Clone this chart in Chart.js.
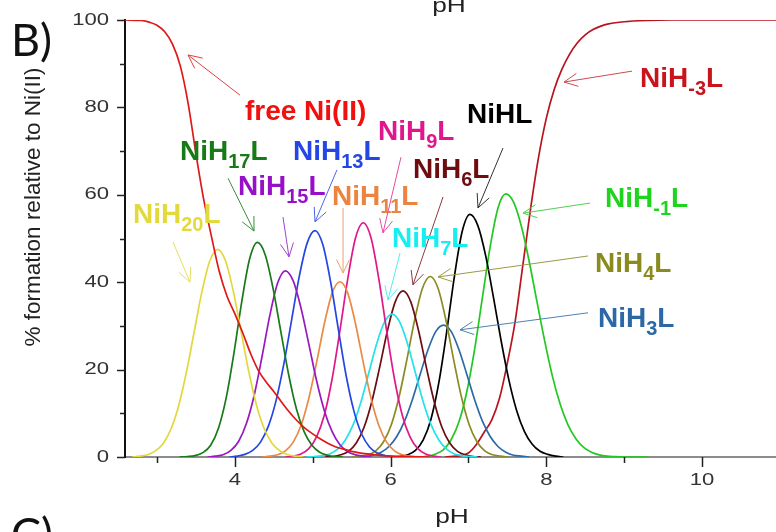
<!DOCTYPE html>
<html>
<head>
<meta charset="utf-8">
<script src="https://cdn.jsdelivr.net/npm/chart.js@4"></script>
<style>
  body { margin: 0; background: #fff; }
  canvas { display: block; }
</style>
</head>
<body>
<canvas id="grafico" width="776" height="532"></canvas>
<script>
// valores: [pH, % formacion]
const freeNi = [[2.59,100],[2.8,99.9],[2.9,99.5],[3.0,98.8],[3.1,97.3],[3.2,94.5],[3.3,89.5],[3.4,81],[3.5,69.5],[3.6,59],[3.7,50.5],[3.8,42.5],[3.9,36.8],[4.0,32.8],[4.1,28.5],[4.2,23.8],[4.3,19.9],[4.4,17.2],[4.5,15],[4.6,12.6],[4.7,10.3],[4.8,8.3],[4.9,6.6],[5.0,5.3],[5.1,4.1],[5.2,3.1],[5.3,2.3],[5.4,1.8],[5.5,1.3],[5.7,0.7],[5.9,0.3],[6.2,0.1],[6.5,0]];
const NiH20L = [[2.68,0],[2.78,0.2],[2.88,0.5],[2.98,1.4],[3.08,3.1],[3.18,6.4],[3.28,11.8],[3.38,19.5],[3.48,28.8],[3.58,38.0],[3.68,44.9],[3.78,47.5],[3.88,44.9],[3.98,38.0],[4.08,28.8],[4.18,19.5],[4.28,11.8],[4.38,6.4],[4.48,3.1],[4.58,1.4],[4.68,0.5],[4.78,0.2],[4.88,0]];
const NiH17L = [[3.29,0],[3.39,0.1],[3.49,0.3],[3.59,1.0],[3.69,2.7],[3.79,6.6],[3.89,13.6],[3.99,23.9],[4.09,35.6],[4.19,45.3],[4.29,49.1],[4.39,46.3],[4.49,38.7],[4.59,28.8],[4.69,19.0],[4.79,11.1],[4.89,5.8],[4.99,2.7],[5.09,1.1],[5.19,0.4],[5.29,0.1],[5.39,0]];
const NiH15L = [[3.65,0],[3.75,0.2],[3.85,0.5],[3.95,1.5],[4.05,3.6],[4.15,7.7],[4.25,14.2],[4.35,23.0],[4.45,32.4],[4.55,39.8],[4.65,42.6],[4.75,40.3],[4.85,34.1],[4.95,25.9],[5.05,17.5],[5.15,10.6],[5.25,5.8],[5.35,2.8],[5.45,1.2],[5.55,0.5],[5.65,0.2],[5.75,0]];
const NiH13L = [[3.93,0],[4.03,0.2],[4.13,0.6],[4.23,1.5],[4.33,3.4],[4.43,7.0],[4.53,12.9],[4.63,21.3],[4.73,31.4],[4.83,41.5],[4.93,49.0],[5.03,51.8],[5.13,48.6],[5.23,40.1],[5.33,29.2],[5.43,18.6],[5.53,10.5],[5.63,5.2],[5.73,2.3],[5.83,0.9],[5.93,0.3],[6.03,0.1],[6.13,0]];
const NiH11L = [[4.35,0],[4.45,0.2],[4.55,0.5],[4.65,1.4],[4.75,3.4],[4.85,7.2],[4.95,13.4],[5.05,21.6],[5.15,30.5],[5.25,37.5],[5.35,40.1],[5.45,37.5],[5.55,30.5],[5.65,21.6],[5.75,13.4],[5.85,7.2],[5.95,3.4],[6.05,1.4],[6.15,0.5],[6.25,0.2],[6.35,0]];
const NiH9L = [[4.65,0],[4.75,0.2],[4.85,0.7],[4.95,1.9],[5.05,4.6],[5.15,9.6],[5.25,17.9],[5.35,28.9],[5.45,40.7],[5.55,50.1],[5.65,53.6],[5.75,50.1],[5.85,40.7],[5.95,28.9],[6.05,17.9],[6.15,9.6],[6.25,4.6],[6.35,1.9],[6.45,0.7],[6.55,0.2],[6.65,0]];
const NiH7L = [[4.92,0],[5.02,0.1],[5.12,0.3],[5.22,0.7],[5.32,1.8],[5.42,3.9],[5.52,7.4],[5.62,12.6],[5.72,19.2],[5.82,25.8],[5.92,30.8],[6.02,32.7],[6.12,30.8],[6.22,25.8],[6.32,19.2],[6.42,12.6],[6.52,7.4],[6.62,3.9],[6.72,1.8],[6.82,0.7],[6.92,0.3],[7.02,0.1],[7.12,0]];
const NiH6L = [[5.16,0],[5.26,0.1],[5.36,0.5],[5.46,1.3],[5.56,3.2],[5.66,6.8],[5.76,12.7],[5.86,20.5],[5.96,28.9],[6.06,35.5],[6.16,38.0],[6.26,35.5],[6.36,28.9],[6.46,20.5],[6.56,12.7],[6.66,6.8],[6.76,3.2],[6.86,1.3],[6.96,0.5],[7.06,0.1],[7.16,0]];
const NiH4L = [[5.51,0],[5.61,0.2],[5.71,0.5],[5.81,1.4],[5.91,3.5],[6.01,7.4],[6.11,13.8],[6.21,22.3],[6.31,31.4],[6.41,38.6],[6.51,41.3],[6.61,38.6],[6.71,31.4],[6.81,22.3],[6.91,13.8],[7.01,7.4],[7.11,3.5],[7.21,1.4],[7.31,0.5],[7.41,0.2],[7.51,0]];
const NiH3L = [[5.58,0],[5.68,0.2],[5.78,0.4],[5.88,1.1],[5.98,2.4],[6.08,4.7],[6.18,8.2],[6.28,13.1],[6.38,18.9],[6.48,24.5],[6.58,28.7],[6.68,30.2],[6.78,28.7],[6.88,24.5],[6.98,18.9],[7.08,13.1],[7.18,8.2],[7.28,4.7],[7.38,2.4],[7.48,1.1],[7.58,0.4],[7.68,0.2],[7.78,0]];
const NiHL = [[6.02,0],[6.12,0.1],[6.22,0.5],[6.32,1.5],[6.42,3.9],[6.52,8.7],[6.62,17.0],[6.72,28.5],[6.82,41.3],[6.92,51.6],[7.02,55.5],[7.12,53.0],[7.22,46.2],[7.32,36.7],[7.42,26.6],[7.52,17.6],[7.62,10.6],[7.72,5.8],[7.82,2.9],[7.92,1.3],[8.02,0.6],[8.12,0.2],[8.22,0]];
const NiHm1L = [[6.38,0],[6.48,0.2],[6.58,0.7],[6.68,1.7],[6.78,4.0],[6.88,8.1],[6.98,15.0],[7.08,24.7],[7.18,36.5],[7.28,48.2],[7.38,57.0],[7.48,60.2],[7.58,58.3],[7.68,52.8],[7.78,44.8],[7.88,35.6],[7.98,26.5],[8.08,18.4],[8.18,12.0],[8.28,7.3],[8.38,4.2],[8.48,2.2],[8.58,1.1],[8.68,0.5],[8.78,0.2],[8.88,0.1],[9.1,0],[9.3,0]];
const NiHm3L = [[6.7,0],[6.9,0.3],[7.0,0.9],[7.1,2.8],[7.2,5.6],[7.3,8.5],[7.4,13.5],[7.5,21.5],[7.6,31],[7.7,44],[7.8,57],[7.9,68.5],[8.0,77.5],[8.1,84],[8.2,88.7],[8.3,92.2],[8.4,94.8],[8.5,96.6],[8.6,97.8],[8.7,98.6],[8.8,99.1],[9.0,99.6],[9.3,99.9],[9.6,100],[10.95,100]];

// marcas de los ejes
const xTicks = [3, 4, 5, 6, 7, 8, 9, 10];
const xTickLabels = [4, 6, 8, 10];
const yTicks = [0, 10, 20, 30, 40, 50, 60, 70, 80, 90, 100];
const yTickLabels = [0, 20, 40, 60, 80, 100];

const series = [
    { datos: freeNi, color: '#e01818' },
    { datos: NiH20L, color: '#e2d83e' },
    { datos: NiH17L, color: '#187a18' },
    { datos: NiH15L, color: '#9a18c0' },
    { datos: NiH13L, color: '#2446e2' },
    { datos: NiH11L, color: '#ea8a44' },
    { datos: NiH9L, color: '#e0188a' },
    { datos: NiH7L, color: '#22e2ea' },
    { datos: NiH6L, color: '#6c0c12' },
    { datos: NiH4L, color: '#8c8a22' },
    { datos: NiH3L, color: '#2c6aa6' },
    { datos: NiHL, color: '#000000' },
    { datos: NiHm1L, color: '#22c822' },
    { datos: NiHm3L, color: '#b8141e' }
];

// etiquetas con flecha (posiciones en unidades de pH / %)
const etiquetas = [
    { partes: ['free Ni(II)'], x: 4.13, y: 77.1, color: '#f2100e', flecha: [4.067, 82.8, 3.399, 92.0], colorFlecha: '#e04040' },
    { partes: ['NiH', '17', 'L'], x: 3.296, y: 68.0, color: '#167a16', flecha: [3.913, 63.8, 4.247, 51.7], colorFlecha: '#3c8c3c' },
    { partes: ['NiH', '15', 'L'], x: 4.041, y: 60.0, color: '#9610c8', flecha: [4.619, 54.9, 4.696, 45.8], colorFlecha: '#a040d0' },
    { partes: ['NiH', '13', 'L'], x: 4.747, y: 68.0, color: '#2546e6', flecha: [5.312, 65.7, 5.030, 53.8], colorFlecha: '#4a66e8' },
    { partes: ['NiH', '11', 'L'], x: 5.248, y: 57.7, color: '#ec8440', flecha: [5.39, 57.0, 5.39, 42.1], colorFlecha: '#eca070' },
    { partes: ['NiH', '9', 'L'], x: 5.839, y: 72.5, color: '#e2168c', flecha: [6.134, 68.6, 5.903, 51.3], colorFlecha: '#e64aa4' },
    { partes: ['NiH', '6', 'L'], x: 6.288, y: 63.8, color: '#6e0c10', flecha: [6.674, 59.5, 6.288, 39.4], colorFlecha: '#8a3a3e' },
    { partes: ['NiH', '7', 'L'], x: 6.019, y: 48.1, color: '#18eef0', flecha: [6.122, 46.7, 5.967, 35.9], colorFlecha: '#50eef0' },
    { partes: ['NiHL'], x: 6.982, y: 76.4, color: '#000000', flecha: [7.444, 70.7, 7.123, 57.0], colorFlecha: '#333333' },
    { partes: ['NiH', '-1', 'L'], x: 8.754, y: 57.2, color: '#1ed41e', flecha: [8.561, 58.1, 7.701, 55.8], colorFlecha: '#50d050' },
    { partes: ['NiH', '4', 'L'], x: 8.626, y: 42.3, color: '#8a8a1e', flecha: [8.536, 46.0, 6.610, 41.2], colorFlecha: '#9a9a44' },
    { partes: ['NiH', '3', 'L'], x: 8.664, y: 29.7, color: '#2c68a6', flecha: [8.536, 33.0, 6.892, 29.1], colorFlecha: '#5080b4' },
    { partes: ['NiH', '20', 'L'], x: 2.693, y: 53.5, color: '#e2da3c', flecha: [3.206, 49.2, 3.425, 40.0], colorFlecha: '#e6de60' },
    { partes: ['NiH', '-3', 'L'], x: 9.204, y: 84.7, color: '#c8141c', flecha: [9.101, 88.3, 8.228, 85.8], colorFlecha: '#cc4a50' }
];

function textoEstirado(ctx, txt, x, y, sx, align) {
    ctx.save();
    ctx.translate(x, y);
    ctx.scale(sx, 1);
    ctx.textAlign = align;
    ctx.fillText(txt, 0, 0);
    ctx.restore();
}

function linea(ctx, x1, y1, x2, y2) {
    ctx.beginPath();
    ctx.moveTo(x1, y1);
    ctx.lineTo(x2, y2);
    ctx.stroke();
}

const decoracion = {
    id: 'decoracion',
    afterDraw(chart) {
        const ctx = chart.ctx;
        const xs = chart.scales.x;
        const ys = chart.scales.y;
        const area = chart.chartArea;

        ctx.save();
        // marcas eje y
        ctx.strokeStyle = '#222';
        ctx.lineWidth = 1.5;
        yTicks.forEach(v => {
            const py = Math.round(ys.getPixelForValue(v)) + 0.5;
            const largo = yTickLabels.includes(v) ? 8 : 5;
            linea(ctx, area.left - largo, py, area.left, py);
        });
        // marcas eje x
        xTicks.forEach(v => {
            const px = Math.round(xs.getPixelForValue(v)) + 0.5;
            const largo = xTickLabels.includes(v) ? 10 : 6;
            linea(ctx, px, area.bottom, px, area.bottom + largo);
        });

        // numeros de los ejes
        ctx.fillStyle = '#333';
        ctx.font = '17px "Liberation Sans", Arial, sans-serif';
        ctx.textBaseline = 'middle';
        yTickLabels.forEach(v => {
            textoEstirado(ctx, String(v), area.left - 16, ys.getPixelForValue(v), 1.3, 'right');
        });
        ctx.textBaseline = 'alphabetic';
        xTickLabels.forEach(v => {
            textoEstirado(ctx, String(v), xs.getPixelForValue(v), 485, 1.3, 'center');
        });

        // titulos
        ctx.fillStyle = '#222';
        ctx.font = '21px "Liberation Sans", Arial, sans-serif';
        textoEstirado(ctx, 'pH', 452, 523, 1.25, 'center');
        textoEstirado(ctx, 'pH', 449, 12, 1.25, 'center');

        ctx.save();
        ctx.translate(40, 207);
        ctx.rotate(-Math.PI / 2);
        ctx.font = '22.5px "Liberation Sans", Arial, sans-serif';
        ctx.textAlign = 'center';
        ctx.fillText('% formation relative to Ni(II)', 0, 0);
        ctx.restore();

        ctx.fillStyle = '#111';
        ctx.font = '45px Lato, "Open Sans", sans-serif';
        ctx.textAlign = 'left';
        ctx.fillText('B)', 11, 56);
        ctx.fillText('C)', 11, 550);

        // etiquetas y flechas
        etiquetas.forEach(e => {
            const f = e.flecha;
            const x1 = xs.getPixelForValue(f[0]), y1 = ys.getPixelForValue(f[1]);
            const x2 = xs.getPixelForValue(f[2]), y2 = ys.getPixelForValue(f[3]);
            ctx.strokeStyle = e.colorFlecha;
            ctx.lineWidth = 1;
            linea(ctx, x1, y1, x2, y2);
            const ang = Math.atan2(y2 - y1, x2 - x1);
            const punta = 15;
            linea(ctx, x2, y2, x2 - punta * Math.cos(ang - 0.45), y2 - punta * Math.sin(ang - 0.45));
            linea(ctx, x2, y2, x2 - punta * Math.cos(ang + 0.45), y2 - punta * Math.sin(ang + 0.45));

            let px = xs.getPixelForValue(e.x);
            const py = ys.getPixelForValue(e.y);
            ctx.fillStyle = e.color;
            ctx.textAlign = 'left';
            e.partes.forEach((t, i) => {
                if (i % 2 === 1) {
                    ctx.font = 'bold 20px "Liberation Sans", Arial, sans-serif';
                    ctx.fillText(t, px, py + 8);
                } else {
                    ctx.font = 'bold 28px "Liberation Sans", Arial, sans-serif';
                    ctx.fillText(t, px, py);
                }
                px += ctx.measureText(t).width;
            });
        });
        ctx.restore();
    }
};

new Chart(document.getElementById('grafico').getContext('2d'), {
    type: 'line',
    data: {
        datasets: series.map(s => ({
            data: s.datos.map(p => ({ x: p[0], y: p[1] })),
            borderColor: s.color,
            borderWidth: 1.7,
            pointRadius: 0,
            fill: false,
            cubicInterpolationMode: 'monotone'
        }))
    },
    options: {
        responsive: false,
        animation: false,
        layout: { padding: { left: 117, right: 0, top: 20, bottom: 67 } },
        plugins: { legend: { display: false }, tooltip: { enabled: false } },
        scales: {
            x: {
                type: 'linear',
                min: 2.59,
                max: 10.95,
                grid: { display: false },
                ticks: { display: false },
                border: { color: '#8c8c8c', width: 2 }
            },
            y: {
                min: 0,
                max: 100,
                grid: { display: false },
                ticks: { display: false },
                border: { color: '#111', width: 2 }
            }
        }
    },
    plugins: [decoracion]
});
</script>
</body>
</html>
